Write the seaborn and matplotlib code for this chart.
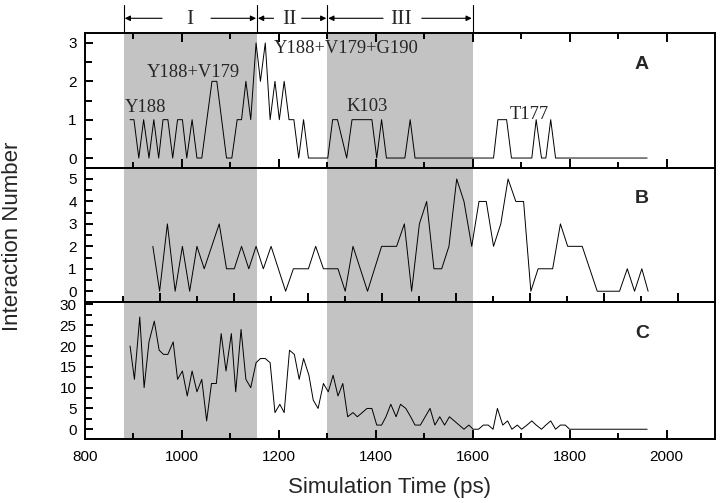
import seaborn as sns
import matplotlib.pyplot as plt
import pandas as pd
import numpy as np

# Panel A - interaction number (vertices)
a_time = [893, 901, 911, 921, 932, 942, 952, 961, 971, 981, 991, 1001, 1010, 1021, 1031, 1041,
          1062, 1072, 1092, 1103, 1114, 1123, 1132, 1142, 1153, 1162, 1172, 1182, 1192, 1201,
          1211, 1221, 1231, 1241, 1251, 1261, 1301, 1311, 1321, 1340, 1351, 1392, 1402, 1412,
          1422, 1460, 1471, 1481, 1643, 1652, 1670, 1680, 1722, 1731, 1742, 1751, 1761, 1771, 1960]
a_value = [1, 1, 0, 1, 0, 1, 0, 1, 1, 0, 1, 1, 0, 1, 0, 0,
           2, 2, 0, 0, 1, 1, 2, 1, 3, 2, 3, 1, 2, 1,
           2, 1, 1, 0, 1, 0, 0, 1, 1, 0, 1, 1, 0, 1,
           0, 0, 1, 0, 0, 1, 1, 0, 0, 1, 0, 0, 1, 0, 0]

# Panel B
b_time = [940, 954, 970, 986, 1001, 1016, 1031, 1046, 1077, 1092, 1108, 1123, 1138, 1153, 1168,
          1184, 1214, 1230, 1261, 1276, 1292, 1322, 1337, 1353, 1383, 1412, 1443, 1459, 1474,
          1490, 1505, 1520, 1536, 1551, 1567, 1582, 1598, 1613, 1628, 1643, 1658, 1673, 1689,
          1705, 1720, 1735, 1765, 1781, 1796, 1826, 1857, 1903, 1919, 1934, 1949, 1962]
b_value = [2, 0, 3, 0, 2, 0, 2, 1, 3, 1, 1, 2, 1, 2, 1,
           2, 0, 1, 1, 2, 1, 1, 0, 2, 0, 2, 2, 3, 0,
           3, 4, 1, 1, 2, 5, 4, 2, 4, 4, 2, 3, 5, 4,
           4, 0, 1, 1, 3, 2, 2, 0, 0, 1, 0, 1, 0]

# Panel C
c_time = [893, 902, 913, 922, 932, 943, 953, 962, 971, 982, 991, 1001, 1011, 1021, 1031, 1041,
          1051, 1061, 1071, 1081, 1091, 1102, 1111, 1122, 1132, 1142, 1153, 1162, 1172, 1182,
          1192, 1202, 1211, 1222, 1232, 1242, 1251, 1262, 1271, 1281, 1292, 1302, 1312, 1322,
          1332, 1342, 1353, 1362, 1372, 1382, 1392, 1402, 1412, 1421, 1431, 1442, 1451, 1462,
          1472, 1481, 1492, 1512, 1522, 1532, 1542, 1552, 1562, 1572, 1582, 1592, 1601, 1612,
          1622, 1632, 1642, 1651, 1662, 1672, 1681, 1692, 1701, 1712, 1722, 1731, 1742, 1751,
          1761, 1771, 1781, 1791, 1800, 1960]
c_value = [20, 12, 27, 10, 21, 26, 19, 18, 18, 21, 12, 14, 8, 14, 9, 12,
           2, 11, 11, 23, 14, 23, 9, 24, 12, 10, 16, 17, 17, 16,
           4, 6, 4, 19, 18, 12, 17, 13, 7, 5, 11, 9, 13, 8,
           11, 3, 4, 3, 4, 5, 5, 1, 1, 3, 6, 3, 6, 5,
           3, 1, 1, 5, 1, 3, 1, 3, 2, 1, 0, 1, 0, 0,
           1, 1, 0, 5, 1, 2, 0, 1, 0, 1, 2, 1, 0, 1,
           2, 0, 1, 1, 0, 0]

phase_edges = [(880, 1155), (1300, 1600)]
b_major_ticks = [954.8, 1107.6, 1260.4, 1413, 1566, 1719, 1871.6, 2024]
b_minor_ticks = [878.4, 1031, 1184, 1337, 1489.6, 1642, 1795, 1948]

sns.set_style("ticks")
plt.rcParams['font.family'] = ['Liberation Sans', 'DejaVu Sans']
serif = ['Liberation Serif', 'DejaVu Serif']

fig = plt.figure(figsize=(7.2, 5.03), dpi=100)
left, width = 85 / 720, 630 / 720
axA = fig.add_axes([left, 1 - 168 / 503, width, 135 / 503])
axB = fig.add_axes([left, 1 - 302 / 503, width, 134 / 503])
axC = fig.add_axes([left, 1 - 439 / 503, width, 137 / 503])

panels = [
    (axA, a_time, a_value, (-0.26, 3.26), 1, 0.5, "A"),
    (axB, b_time, b_value, (-0.48, 5.49), 1, 0.5, "B"),
    (axC, c_time, c_value, (-2.35, 30.6), 5, 2.5, "C"),
]

for ax, t, v, ylim, major, minor, letter in panels:
    ax.set_facecolor("none")
    for x0, x1 in phase_edges:
        ax.axvspan(x0, x1, color="#c3c3c3", lw=0, zorder=0)
    df = pd.DataFrame({"time": t, "value": v})
    sns.lineplot(data=df, x="time", y="value", ax=ax, color="black", lw=0.7,
                 estimator=None, sort=False)
    ax.set_xlim(800, 2100)
    ax.set_ylim(*ylim)
    ax.set_yticks(np.arange(0, ylim[1], major))
    ax.set_yticks(np.arange(0, ylim[1], minor), minor=True)
    ax.set_xlabel("")
    ax.set_ylabel("")
    for s in ax.spines.values():
        s.set_linewidth(1.4)
        s.set_color("black")
        s.set_visible(True)
    ax.tick_params(axis="both", which="both", direction="in", width=1.4, color="black",
                   labelsize=11, labelcolor="black")
    ax.tick_params(axis="y", which="major", length=6, pad=6, left=True, right=False)
    ax.tick_params(axis="y", which="minor", length=5, left=True, right=False)
    ax.tick_params(axis="x", which="major", length=6.5, pad=8, bottom=True)
    ax.tick_params(axis="x", which="minor", length=4, bottom=True)
    ax.text(0.884, 0.77, letter, transform=ax.transAxes, ha="center", va="center",
            fontsize=14, fontweight="bold")

# x ticks: A and C share the time scale, B carries its own frame ticks
for ax in (axA, axC):
    ax.set_xticks(np.arange(800, 2101, 200))
    ax.set_xticks(np.arange(900, 2100, 200), minor=True)
axA.tick_params(axis="x", which="both", top=True, labelbottom=False)
axB.set_xticks(b_major_ticks)
axB.set_xticks(b_minor_ticks, minor=True)
axB.tick_params(axis="x", which="both", top=False, labelbottom=False)
axC.tick_params(axis="x", which="both", top=False)

axC.set_xlabel("Simulation Time (ps)", fontsize=16)
axC.xaxis.set_label_coords(0.483, -0.354)
axC.xaxis.label.set_va("center")
axB.set_ylabel("Interaction Number", fontsize=16)
axB.yaxis.set_label_coords(-0.115, 0.4925)
axB.yaxis.label.set_va("center")
axB.yaxis.label.set_ha("center")

# residue labels in panel A
for txt, x, y in [("Y188", 883, 1.2), ("Y188+V179", 928, 2.1),
                  ("Y188+V179+G190", 1189, 2.74), ("K103", 1340, 1.22), ("T177", 1677, 1.03)]:
    axA.text(x, y, txt, family=serif, fontsize=13.3, ha="left", va="baseline")

# phase markers above panel A
trans = axA.get_xaxis_transform()
for x in (880, 1155, 1300, 1600):
    axA.plot([x, x], [1.0, 1.21], transform=trans, color="black", lw=0.8, clip_on=False)
arrow = dict(arrowstyle="-|>", color="black", lw=0.8, shrinkA=0, shrinkB=0, mutation_scale=8)
for start, end in [(959, 882), (1060, 1153), (1189, 1157), (1247, 1298), (1415, 1302), (1495, 1598)]:
    axA.annotate("", xy=(end, 1.109), xytext=(start, 1.109), xycoords=trans,
                 textcoords=trans, arrowprops=arrow, annotation_clip=False)
for txt, x in [("I", 1016), ("II", 1222), ("III", 1452)]:
    axA.text(x, 1.1, txt, transform=trans, family=serif, fontsize=15.5, ha="center", va="center")

fig.patch.set_facecolor("white")
plt.savefig("out.png", dpi=100, facecolor="white")
plt.close()
